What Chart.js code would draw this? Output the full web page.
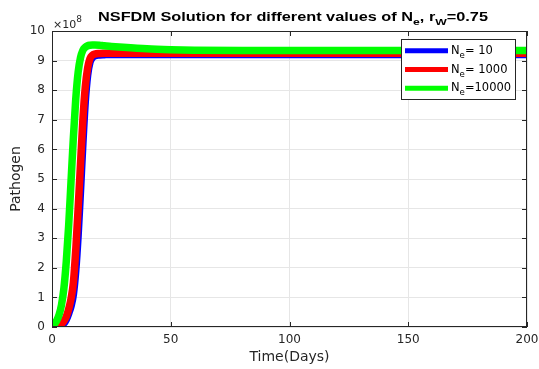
<!DOCTYPE html>
<html>
<head>
<meta charset="utf-8">
<script src="https://cdn.jsdelivr.net/npm/chart.js@4.4.1/dist/chart.umd.min.js"></script>
<style>
  html, body { margin: 0; padding: 0; background: #fff; }
</style>
</head>
<body>
<canvas id="chart" width="539" height="369"></canvas>
<script>
// time axis (days) shared by all three runs
const days = [0, 1, 2, 3, 4, 5, 6, 7, 8, 9, 10, 11, 12, 13, 14, 15, 16, 17, 18,
  20, 22, 25, 30, 40, 50, 60, 80, 100, 150, 200]

// pathogen level, in units of 1e8
const pathogenNe10 = [0, 0.003, 0.01, 0.03, 0.06, 0.12, 0.25, 0.45, 0.7, 1.1, 1.9, 3.1, 4.6, 6.2, 7.6, 8.5, 8.95, 9.1, 9.16,
  9.19, 9.2, 9.21, 9.21, 9.21, 9.21, 9.21, 9.21, 9.21, 9.21, 9.21]
const pathogenNe1000 = [0, 0.005, 0.02, 0.05, 0.1, 0.2, 0.35, 0.6, 0.95, 1.5, 2.6, 4.0, 5.5, 7.0, 8.1, 8.75, 9.07, 9.18, 9.22,
  9.24, 9.25, 9.25, 9.25, 9.25, 9.25, 9.25, 9.25, 9.25, 9.25, 9.25]
const pathogenNe10000 = [0.03, 0.1, 0.22, 0.42, 0.75, 1.3, 2.2, 3.4, 4.9, 6.4, 7.7, 8.6, 9.1, 9.35, 9.45, 9.5, 9.52, 9.53, 9.53,
  9.52, 9.5, 9.48, 9.45, 9.4, 9.37, 9.35, 9.34, 9.34, 9.34, 9.34]

const seriesLabels = ['10', '1000', '10000']
const seriesColors = ['#0000ff', '#ff0000', '#00ff00']
const xTicks = [0, 50, 100, 150, 200]
const yTicks = [0, 1, 2, 3, 4, 5, 6, 7, 8, 9, 10]

const FONT = "'DejaVu Sans', sans-serif"
const TITLE_FONT = "'Liberation Sans', Arial, sans-serif"
const TEXT = '#262626'

const toPoints = vals => vals.map((v, i) => ({ x: days[i], y: v }))

// draws text pieces one after another, some of them as subscripts
function drawRich(ctx, parts, x, y, size, weight, family = FONT) {
  let cx = x
  parts.forEach(p => {
    const s = p.sub ? size * 0.75 : size
    ctx.font = `${weight} ${s}px ${family}`
    ctx.fillText(p.t, cx, p.sub ? y + size * 0.35 : y)
    cx += ctx.measureText(p.t).width
  })
  return cx - x
}
function measureRich(ctx, parts, size, weight, family = FONT) {
  let w = 0
  parts.forEach(p => {
    ctx.font = `${weight} ${p.sub ? size * 0.75 : size}px ${family}`
    w += ctx.measureText(p.t).width
  })
  return w
}

const matlabAxes = {
  id: 'matlabAxes',
  afterDatasetsDraw(chart) {
    const { ctx, chartArea: a, scales } = chart
    ctx.save()
    ctx.strokeStyle = TEXT
    ctx.lineWidth = 1
    ctx.strokeRect(a.left + 0.5, a.top + 0.5, a.right - a.left - 1, a.bottom - a.top - 1)
    const tl = 5
    ctx.beginPath()
    xTicks.forEach(v => {
      const px = Math.round(scales.x.getPixelForValue(v)) + 0.5
      ctx.moveTo(px, a.bottom); ctx.lineTo(px, a.bottom - tl)
      ctx.moveTo(px, a.top); ctx.lineTo(px, a.top + tl)
    })
    yTicks.forEach(v => {
      const py = Math.round(scales.y.getPixelForValue(v)) + 0.5
      ctx.moveTo(a.left, py); ctx.lineTo(a.left + tl, py)
      ctx.moveTo(a.right, py); ctx.lineTo(a.right - tl, py)
    })
    ctx.stroke()
    ctx.restore()
  },
  afterDraw(chart) {
    const { ctx, chartArea: a } = chart
    ctx.save()
    ctx.fillStyle = '#000'
    ctx.textBaseline = 'alphabetic'

    // title, widened to the width it has in the figure
    const title = [
      { t: 'NSFDM Solution for different values of N' }, { t: 'e', sub: true },
      { t: ', r' }, { t: 'W', sub: true }, { t: '=0.75' }
    ]
    const tw = measureRich(ctx, title, 13, 'bold', TITLE_FONT)
    ctx.save()
    ctx.translate(98, 0)
    ctx.scale(390 / tw, 1)
    drawRich(ctx, title, 0, 20.5, 13, 'bold', TITLE_FONT)
    ctx.restore()

    // exponent label
    ctx.fillStyle = TEXT
    ctx.font = `11px ${FONT}`
    ctx.fillText('\u00d710', a.left + 1, 27.5)
    const ew = ctx.measureText('\u00d710').width
    ctx.font = `9px ${FONT}`
    ctx.fillText('8', a.left + 1 + ew, 21.5)

    // legend
    const lx = 401, ly = 39, lw = 114, lh = 60
    ctx.fillStyle = '#fff'
    ctx.fillRect(lx, ly, lw, lh)
    ctx.strokeStyle = TEXT
    ctx.lineWidth = 1
    ctx.strokeRect(lx + 0.5, ly + 0.5, lw, lh)
    seriesLabels.forEach((lab, i) => {
      const ry = 50.7 + i * 18.8
      ctx.strokeStyle = seriesColors[i]
      ctx.lineWidth = 5
      ctx.beginPath()
      ctx.moveTo(405, ry); ctx.lineTo(448, ry)
      ctx.stroke()
      ctx.fillStyle = '#000'
      const eq = lab.length >= 5 ? '=' : '= '
      drawRich(ctx, [{ t: 'N' }, { t: 'e', sub: true }, { t: eq + lab }], 451, ry + 3, 11.5, 'normal')
    })
    ctx.restore()
  }
}

new Chart(document.getElementById('chart'), {
  type: 'line',
  data: {
    datasets: [
      { label: 'Ne= 10', data: toPoints(pathogenNe10), borderColor: seriesColors[0], order: 2 },
      { label: 'Ne= 1000', data: toPoints(pathogenNe1000), borderColor: seriesColors[1], order: 1 },
      { label: 'Ne=10000', data: toPoints(pathogenNe10000), borderColor: seriesColors[2], order: 0 }
    ]
  },
  options: {
    responsive: false,
    animation: false,
    devicePixelRatio: 1,
    layout: { padding: { top: 31, right: 12, left: 0, bottom: 0 } },
    elements: {
      line: { borderWidth: 7.5, fill: false, cubicInterpolationMode: 'monotone', borderCapStyle: 'round', borderJoinStyle: 'round' },
      point: { radius: 0 }
    },
    plugins: { legend: { display: false }, title: { display: false }, tooltip: { enabled: false } },
    scales: {
      x: {
        type: 'linear',
        min: 0,
        max: 200,
        afterFit: s => { s.height = 42; s.paddingLeft = 0; s.paddingRight = 0 },
        afterBuildTicks: s => { s.ticks = xTicks.map(v => ({ value: v })) },
        ticks: { padding: 6, color: TEXT, font: { family: FONT, size: 12 } },
        grid: { color: '#e6e6e6', drawTicks: false },
        border: { display: false },
        title: { display: true, text: 'Time(Days)', color: TEXT, font: { family: FONT, size: 14 }, padding: { top: 3.6, bottom: 3.6 } }
      },
      y: {
        min: 0,
        max: 10,
        afterFit: s => { s.width = 52; s.paddingTop = 0; s.paddingBottom = 0 },
        afterBuildTicks: s => { s.ticks = yTicks.map(v => ({ value: v })) },
        ticks: { padding: 7, color: TEXT, font: { family: FONT, size: 12 } },
        grid: { color: '#e6e6e6', drawTicks: false },
        border: { display: false },
        title: { display: true, text: 'Pathogen', color: TEXT, font: { family: FONT, size: 14 }, padding: { top: 7.6, bottom: 7.6 } }
      }
    }
  },
  plugins: [matlabAxes]
})
</script>
</body>
</html>
